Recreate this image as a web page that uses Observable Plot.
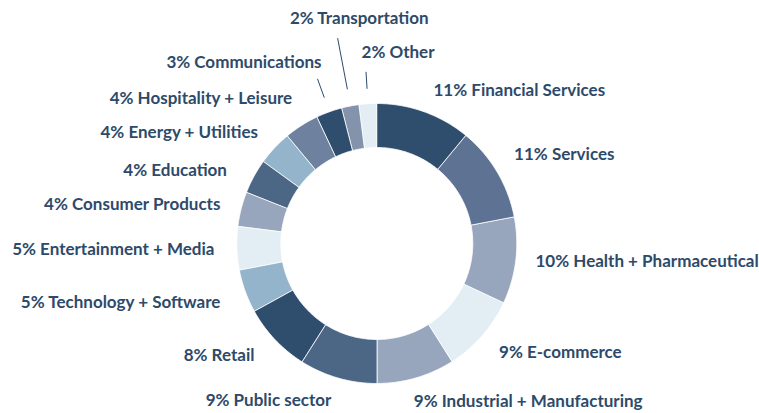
<!DOCTYPE html>
<html>
<head>
<meta charset="utf-8">
<script src="https://cdn.jsdelivr.net/npm/d3@7"></script>
<script src="https://cdn.jsdelivr.net/npm/@observablehq/plot@0.6"></script>
<style>
  html, body { margin: 0; padding: 0; background: #fff; }
  #chart svg { display: block; }
</style>
</head>
<body>
<div id="chart"></div>
<script>
// ---- data ----
const categories = [
  "Financial Services", "Services", "Health + Pharmaceutical", "E-commerce",
  "Industrial + Manufacturing", "Public sector", "Retail", "Technology + Software",
  "Entertainment + Media", "Consumer Products", "Education", "Energy + Utilities",
  "Hospitality + Leisure", "Communications", "Transportation", "Other"
];
const shares = [11, 11, 10, 9, 9, 9, 8, 5, 5, 4, 4, 4, 4, 3, 2, 2];
const sliceColors = [
  "#2f4e6d", "#5e7393", "#98a6bd", "#e2edf4",
  "#98a6bd", "#4c6685", "#2f4e6d", "#94b4cb",
  "#e2edf4", "#98a6bd", "#4c6685", "#94b4cb",
  "#6e819e", "#2f4e6d", "#8493ac", "#e2edf4"
];

// ---- layout ----
const W = 759, H = 413;
const cx = 376.3, cy = 243;
const R = 140, r0 = 96;
const labelR = 163;
const textColor = "#2d4a6a";
// per-label nudges: [dx, dy, anchor, leaderFrom, leaderTo]
const labelTweaks = {
  "Financial Services": [1.5, 0],
  "Services": [-3, -5.5],
  "Health + Pharmaceutical": [-3, -2.4],
  "E-commerce": [0, 1],
  "Industrial + Manufacturing": [-8.5, 2],
  "Public sector": [0, 0.5],
  "Retail": [-3.5, 0],
  "Technology + Software": [-3, 3.5],
  "Entertainment + Media": [0.5, 1],
  "Consumer Products": [1.5, 1.5],
  "Education": [-7, 6],
  "Energy + Utilities": [0, 1],
  "Hospitality + Leisure": [2.7, -7],
  "Communications": [0, -28, "end", 155, 175],
  "Transportation": [13, -65, "middle", 157, 209],
  "Other": [-5, -28.5, "start", 155, 172]
};

const total = d3.sum(shares);
const slices = [];
let acc = 0;
categories.forEach((name, i) => {
  const a0 = acc / total * 2 * Math.PI;
  acc += shares[i];
  const a1 = acc / total * 2 * Math.PI;
  slices.push({name, share: shares[i], a0, a1, mid: (a0 + a1) / 2});
});

// polygon outline of each ring slice, in coordinates centred on the donut (y up)
const polys = [];
for (const s of slices) {
  const n = Math.max(2, Math.ceil((s.a1 - s.a0) / (Math.PI / 180)));
  for (let k = 0; k <= n; k++) {
    const a = s.a0 + (s.a1 - s.a0) * k / n;
    polys.push({name: s.name, x: R * Math.sin(a), y: R * Math.cos(a)});
  }
  for (let k = n; k >= 0; k--) {
    const a = s.a0 + (s.a1 - s.a0) * k / n;
    polys.push({name: s.name, x: r0 * Math.sin(a), y: r0 * Math.cos(a)});
  }
}

const labels = slices.map(s => {
  const t = labelTweaks[s.name] || [0, 0];
  const anchor = t[2] || (Math.sin(s.mid) >= 0 ? "start" : "end");
  return {
    text: `${s.share}% ${s.name}`,
    x: labelR * Math.sin(s.mid) + t[0],
    y: labelR * Math.cos(s.mid) - t[1],
    anchor
  };
});

const leaders = slices.filter(s => (labelTweaks[s.name] || [])[3]).map(s => {
  const t = labelTweaks[s.name];
  return {
    x1: t[3] * Math.sin(s.mid), y1: t[3] * Math.cos(s.mid),
    x2: t[4] * Math.sin(s.mid), y2: t[4] * Math.cos(s.mid)
  };
});

const font = {fontFamily: "Lato, 'Open Sans', sans-serif", fontSize: 17, fontWeight: 700};
const textMark = anchor => Plot.text(labels.filter(d => d.anchor === anchor), {
  x: "x", y: "y", text: "text", textAnchor: anchor, fill: textColor,
  ...font, lineAnchor: "middle"
});

const chart = Plot.plot({
  width: W,
  height: H,
  margin: 0,
  x: {domain: [-cx, W - cx], axis: null},
  y: {domain: [cy - H, cy], axis: null},
  color: {domain: categories, range: sliceColors},
  style: {background: "#fff"},
  marks: [
    Plot.line(polys, {x: "x", y: "y", fill: "name", stroke: "#ffffff", strokeWidth: 0.8, curve: "linear-closed"}),
    Plot.link(leaders, {x1: "x1", y1: "y1", x2: "x2", y2: "y2", stroke: textColor, strokeWidth: 1}),
    textMark("start"),
    textMark("end"),
    textMark("middle")
  ]
});
document.getElementById("chart").appendChild(chart);
</script>
</body>
</html>
